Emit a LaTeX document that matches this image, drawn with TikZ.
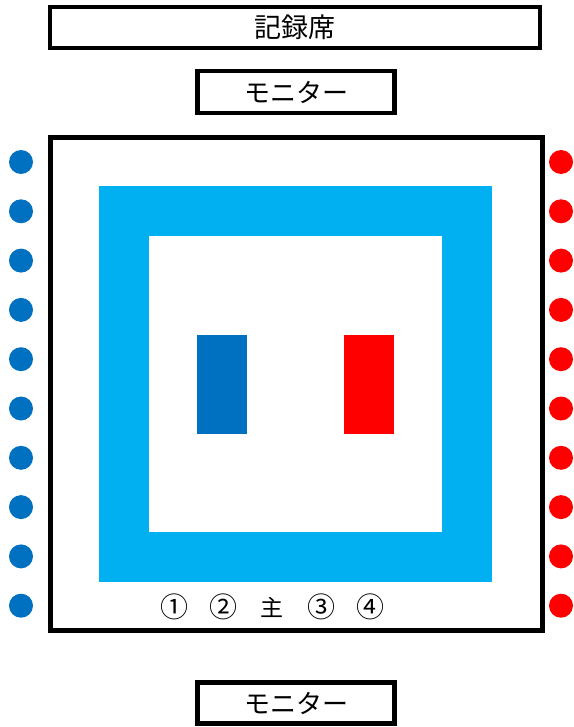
\documentclass[tikz,border=0pt]{standalone}
\usepackage{fontspec}
\newfontfamily\jpfont{Noto Sans CJK JP}
\usepackage{xcolor}
\usetikzlibrary{positioning}
\definecolor{teamblue}{HTML}{0070C0}
\definecolor{matblue}{HTML}{00B0F0}
\definecolor{teamred}{HTML}{FF0000}

\begin{document}
\begin{tikzpicture}[
    x=1pt,y=-1pt,
    signbox/.style={rectangle,draw=black,line width=4.5pt,fill=white,inner sep=0pt,font=\jpfont\fontsize{26}{26}\selectfont},
    plate/.style={rectangle,inner sep=0pt,outer sep=0pt},
    seat/.style={circle,inner sep=0pt,minimum size=24pt},
    num/.style={font=\jpfont\fontsize{28}{28}\selectfont,inner sep=0pt},
    chiefnum/.style={font=\jpfont\fontsize{23}{23}\selectfont,inner sep=0pt}
]
\useasboundingbox (0,0) rectangle (573,727);

% desks and monitors
\node[signbox,minimum width=490,minimum height=41,font=\jpfont\fontsize{27}{27}\selectfont] (record) at (295,27.5) {記録席};
\node[signbox,minimum width=197,minimum height=42] (montop) at (296,92) {モニター};
\node[signbox,minimum width=197,minimum height=41] (monbottom) at (296,703) {モニター};

% court
\node[plate,draw=black,line width=5pt,minimum width=492,minimum height=493] (court) at (296.5,384) {};
\node[plate,fill=matblue,minimum width=393,minimum height=396] (frame) at (295.5,384) {};
\node[plate,fill=white,minimum width=293,minimum height=296] (field) at (295.5,384) {};
\node[plate,fill=teamblue,minimum width=50,minimum height=99] (blueside) at (222,384.5) {};
\node[plate,fill=teamred,minimum width=50,minimum height=99] (redside) at (369,384.5) {};

% referee positions
\node[num] (ref1) at (174,607) {①};
\node[num,right=49pt of ref1.center,anchor=center] (ref2) {②};
\node[chiefnum,right=49pt of ref2.center,anchor=center] (chief) {主};
\node[num,right=49pt of chief.center,anchor=center] (ref3) {③};
\node[num,right=49pt of ref3.center,anchor=center] (ref4) {④};

% team seats
\foreach \i in {0,...,9}{
  \node[seat,fill=teamblue] (bseat\i) at (21,162+49.3*\i) {};
  \node[seat,fill=teamred] (rseat\i) at (561,162+49.3*\i) {};
}
\end{tikzpicture}
\end{document}
